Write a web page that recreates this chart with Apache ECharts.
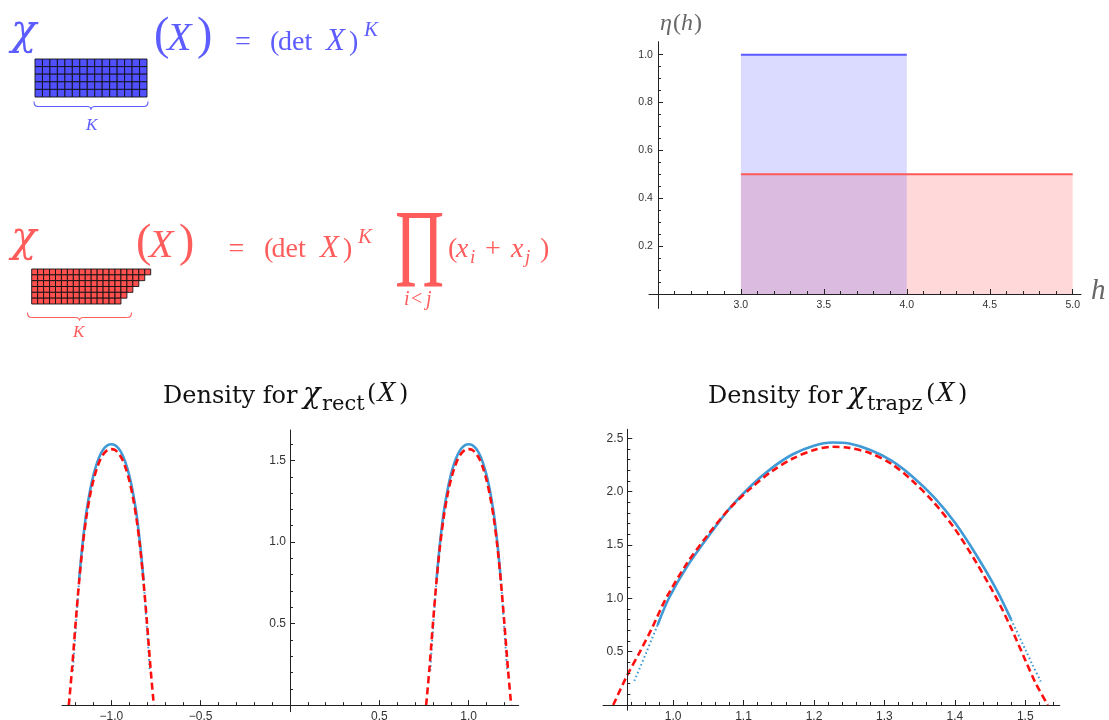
<!DOCTYPE html>
<html>
<head>
<meta charset="utf-8">
<script src="https://cdn.jsdelivr.net/npm/echarts@6/dist/echarts.min.js"></script>
<style>
  html, body { margin: 0; padding: 0; background: #ffffff; }
  #main { width: 1109px; height: 720px; }
</style>
</head>
<body>
<div id="main"></div>
<script>
// ---------- data ----------
// Young diagrams: number of boxes in each row
const rectRowLengths  = [15, 15, 15, 15, 15];
const trapzRowLengths = [20, 19, 18, 17, 16, 15];

// eta(h) step functions: [h, eta]
const etaRect  = [[3, 1.0], [4, 1.0]];
const etaTrapz = [[3, 0.5], [5, 0.5]];
const etaXMajor = [3.0, 3.5, 4.0, 4.5, 5.0];
const etaXMinor = [2.6, 2.7, 2.8, 2.9, 3.1, 3.2, 3.3, 3.4, 3.6, 3.7, 3.8, 3.9, 4.1, 4.2, 4.3, 4.4, 4.6, 4.7, 4.8, 4.9];
const etaYMajor = [0.2, 0.4, 0.6, 0.8, 1.0];
const etaYMinor = [0.05, 0.1, 0.15, 0.25, 0.3, 0.35, 0.45, 0.5, 0.55, 0.65, 0.7, 0.75, 0.85, 0.9, 0.95];

// density for chi_rect: sampled (blue) and limiting curve (red dashed)
const rectSampledLeft = [[-1.215, 0.21], [-1.21, 0.30], [-1.20, 0.46], [-1.19, 0.62], [-1.18, 0.77], [-1.17, 0.89], [-1.16, 1.00], [-1.14, 1.18], [-1.12, 1.31], [-1.10, 1.41], [-1.08, 1.485], [-1.06, 1.54], [-1.04, 1.575], [-1.02, 1.595], [-1.0, 1.60], [-0.98, 1.595], [-0.96, 1.575], [-0.94, 1.54], [-0.92, 1.485], [-0.90, 1.41], [-0.88, 1.31], [-0.86, 1.18], [-0.84, 1.00], [-0.83, 0.89], [-0.82, 0.77], [-0.81, 0.62], [-0.80, 0.46], [-0.79, 0.30], [-0.785, 0.21]];
const rectSampledRight = [[0.785, 0.21], [0.79, 0.30], [0.80, 0.46], [0.81, 0.62], [0.82, 0.77], [0.83, 0.89], [0.84, 1.00], [0.86, 1.18], [0.88, 1.31], [0.90, 1.41], [0.92, 1.485], [0.94, 1.54], [0.96, 1.575], [0.98, 1.595], [1.0, 1.60], [1.02, 1.595], [1.04, 1.575], [1.06, 1.54], [1.08, 1.485], [1.10, 1.41], [1.12, 1.31], [1.14, 1.18], [1.16, 1.00], [1.17, 0.89], [1.18, 0.77], [1.19, 0.62], [1.20, 0.46], [1.21, 0.30], [1.215, 0.21]];
const rectLimitLeft = [[-1.238, 0], [-1.22, 0.22], [-1.20, 0.50], [-1.18, 0.76], [-1.16, 0.98], [-1.14, 1.15], [-1.12, 1.28], [-1.10, 1.38], [-1.08, 1.455], [-1.06, 1.51], [-1.04, 1.545], [-1.02, 1.565], [-1.0, 1.57], [-0.98, 1.565], [-0.96, 1.545], [-0.94, 1.51], [-0.92, 1.455], [-0.90, 1.38], [-0.88, 1.28], [-0.86, 1.15], [-0.84, 0.98], [-0.82, 0.76], [-0.80, 0.50], [-0.78, 0.22], [-0.762, 0]];
const rectLimitRight = [[0.762, 0], [0.78, 0.22], [0.80, 0.50], [0.82, 0.76], [0.84, 0.98], [0.86, 1.15], [0.88, 1.28], [0.90, 1.38], [0.92, 1.455], [0.94, 1.51], [0.96, 1.545], [0.98, 1.565], [1.0, 1.57], [1.02, 1.565], [1.04, 1.545], [1.06, 1.51], [1.08, 1.455], [1.10, 1.38], [1.12, 1.28], [1.14, 1.15], [1.16, 0.98], [1.18, 0.76], [1.20, 0.50], [1.22, 0.22], [1.238, 0]];
const rectXMajor = [-1.0, -0.5, 0.5, 1.0];
const rectXMinor = [-1.2, -1.1, -0.9, -0.8, -0.7, -0.6, -0.4, -0.3, -0.2, -0.1, 0.1, 0.2, 0.3, 0.4, 0.6, 0.7, 0.8, 0.9, 1.1, 1.2];
const rectYMajor = [0.5, 1.0, 1.5];
const rectYMinor = [0.1, 0.2, 0.3, 0.4, 0.6, 0.7, 0.8, 0.9, 1.1, 1.2, 1.3, 1.4, 1.6];

// density for chi_trapz
const trapzSampled = [[0.945, 0.225], [0.9625, 0.50], [0.978, 0.75], [0.994, 1.00], [1.02, 1.30], [1.05, 1.58], [1.08, 1.84], [1.11, 2.05], [1.14, 2.22], [1.17, 2.35], [1.20, 2.43], [1.226, 2.46], [1.25, 2.45], [1.28, 2.39], [1.31, 2.29], [1.34, 2.14], [1.37, 1.95], [1.40, 1.71], [1.43, 1.41], [1.46, 1.07], [1.48, 0.80], [1.50, 0.52], [1.51, 0.38], [1.522, 0.22]];
const trapzLimit = [[0.915, 0], [0.935, 0.28], [0.953, 0.50], [0.97, 0.72], [0.99, 1.00], [1.02, 1.33], [1.05, 1.60], [1.08, 1.84], [1.11, 2.03], [1.14, 2.19], [1.17, 2.31], [1.20, 2.39], [1.226, 2.42], [1.25, 2.41], [1.28, 2.36], [1.31, 2.26], [1.34, 2.10], [1.37, 1.90], [1.40, 1.65], [1.43, 1.34], [1.46, 0.99], [1.48, 0.72], [1.50, 0.42], [1.515, 0.20], [1.532, 0]];
const trapzXMajor = [1.0, 1.1, 1.2, 1.3, 1.4, 1.5];
const trapzXMinor = [0.94, 0.96, 0.98, 1.02, 1.04, 1.06, 1.08, 1.12, 1.14, 1.16, 1.18, 1.22, 1.24, 1.26, 1.28, 1.32, 1.34, 1.36, 1.38, 1.42, 1.44, 1.46, 1.48, 1.52, 1.54];
const trapzYMajor = [0.5, 1.0, 1.5, 2.0, 2.5];
const trapzYMinor = [0.1, 0.2, 0.3, 0.4, 0.6, 0.7, 0.8, 0.9, 1.1, 1.2, 1.3, 1.4, 1.6, 1.7, 1.8, 1.9, 2.1, 2.2, 2.3, 2.4];

// ---------- styles ----------
const BLUE = '#5a5aff';
const RED = '#ff5a5a';
const CURVE_BLUE = '#3f9ad6';
const CURVE_RED = '#ff1010';
const AXIS = '#222222';
const LABEL = '#333333';
const SANS = 'Liberation Sans';
const SERIF = 'Liberation Serif';
const TITLE_SERIF = 'DejaVu Serif';

const fmt = v => v.toFixed(1).replace('-', '\u2212');

// grid rectangles in pixels; axes cross at (cx, cy)
const G = {
  eta:   { left: 649, top: 41.7, width: 432, height: 266.7, x: [2.446, 5.05], y: [-0.06, 1.054], cx: 2.5, cy: 0 },
  rect:  { left: 62, top: 430, width: 456.7, height: 281.7, x: [-1.276, 1.28], y: [-0.04, 1.687], cx: 0, cy: 0 },
  trapz: { left: 603, top: 429.3, width: 456.8, height: 281, x: [0.9005, 1.549], y: [-0.05, 2.584], cx: 0.935, cy: 0 },
  dRect: { left: 35, top: 59, width: 112, height: 38 },
  dTrap: { left: 31.7, top: 269, width: 119, height: 35 }
};
// pixel offsets that move the axes from the grid edges to the crossing point
const yAxisOffset = g => -(g.cx - g.x[0]) / (g.x[1] - g.x[0]) * g.width;
const xAxisOffset = g => -(g.cy - g.y[0]) / (g.y[1] - g.y[0]) * g.height;

// axis pair: major ticks + labels, and a second axis carrying the minor ticks
function axisPair(o) {
  const base = { gridIndex: o.grid, type: 'value', min: o.min, max: o.max, position: o.pos, offset: o.offset, splitLine: { show: false }, z: 5 };
  return [
    Object.assign({}, base, {
      axisLine: { show: true, onZero: false, lineStyle: { color: AXIS, width: 1 } },
      axisTick: { show: true, inside: true, length: 5, customValues: o.major, lineStyle: { color: AXIS, width: 1 } },
      axisLabel: { show: true, customValues: o.major, formatter: fmt, margin: o.margin, color: LABEL, fontFamily: SANS, fontSize: o.fontSize }
    }),
    Object.assign({}, base, {
      axisLine: { show: false, onZero: false },
      axisTick: { show: true, inside: true, length: 3, customValues: o.minor, lineStyle: { color: AXIS, width: 1 } },
      axisLabel: { show: false }
    })
  ];
}

const grids = [G.eta, G.rect, G.trapz, G.dRect, G.dTrap].map(g => ({
  left: g.left, top: g.top, width: g.width, height: g.height, containLabel: false, outerBoundsMode: 'none'
}));

const xAxes = [].concat(
  axisPair({ grid: 0, min: G.eta.x[0], max: G.eta.x[1], pos: 'bottom', offset: xAxisOffset(G.eta), major: etaXMajor, minor: etaXMinor, margin: 6, fontSize: 10.5 }),
  axisPair({ grid: 1, min: G.rect.x[0], max: G.rect.x[1], pos: 'bottom', offset: xAxisOffset(G.rect), major: rectXMajor, minor: rectXMinor, margin: 6, fontSize: 12 }),
  axisPair({ grid: 2, min: G.trapz.x[0], max: G.trapz.x[1], pos: 'bottom', offset: xAxisOffset(G.trapz), major: trapzXMajor, minor: trapzXMinor, margin: 6, fontSize: 12 }),
  [
    { gridIndex: 3, type: 'value', min: 0, max: 15, show: false },
    { gridIndex: 4, type: 'value', min: 0, max: 20, show: false }
  ]
);
const yAxes = [].concat(
  axisPair({ grid: 0, min: G.eta.y[0], max: G.eta.y[1], pos: 'left', offset: yAxisOffset(G.eta), major: etaYMajor, minor: etaYMinor, margin: 5, fontSize: 10.5 }),
  axisPair({ grid: 1, min: G.rect.y[0], max: G.rect.y[1], pos: 'left', offset: yAxisOffset(G.rect), major: rectYMajor, minor: rectYMinor, margin: 4, fontSize: 12 }),
  axisPair({ grid: 2, min: G.trapz.y[0], max: G.trapz.y[1], pos: 'left', offset: yAxisOffset(G.trapz), major: trapzYMajor, minor: trapzYMinor, margin: 4, fontSize: 12 }),
  [
    { gridIndex: 3, type: 'value', min: 0, max: 5, inverse: true, show: false },
    { gridIndex: 4, type: 'value', min: 0, max: 6, inverse: true, show: false }
  ]
);

// ---------- series helpers ----------
function cellsFrom(rows) {
  const out = [];
  rows.forEach((n, r) => { for (let c = 0; c < n; c++) out.push([c, r]); });
  return out;
}
function diagram(rows, axisIdx, fill) {
  return {
    type: 'custom', xAxisIndex: axisIdx, yAxisIndex: axisIdx, silent: true,
    data: cellsFrom(rows),
    renderItem: (params, api) => {
      const p = api.coord([api.value(0), api.value(1)]);
      const s = api.size([1, 1]);
      return { type: 'rect', shape: { x: p[0], y: p[1], width: s[0], height: s[1] },
               style: { fill: fill, stroke: '#111111', lineWidth: 0.9 } };
    }
  };
}
function curve(data, axisIdx, color, width, type, z) {
  return { type: 'line', xAxisIndex: axisIdx, yAxisIndex: axisIdx, data: data, smooth: 0.3, showSymbol: false, symbol: 'none', silent: true, z: z,
           lineStyle: { color: color, width: width, type: type, cap: 'butt' } };
}
// sampled curves: solid core, dotted tails below a level
function sampledParts(data, level) {
  const i0 = data.findIndex(p => p[1] >= level);
  const i1 = data.length - 1 - [...data].reverse().findIndex(p => p[1] >= level);
  return { left: data.slice(0, i0 + 1), core: data.slice(i0, i1 + 1), right: data.slice(i1) };
}
function sampledSeries(data, axisIdx, level) {
  const p = sampledParts(data, level);
  return [
    curve(p.core, axisIdx, CURVE_BLUE, 2.6, 'solid', 3),
    curve(p.left, axisIdx, CURVE_BLUE, 2, [1.6, 2.6], 3),
    curve(p.right, axisIdx, CURVE_BLUE, 2, [1.6, 2.6], 3)
  ];
}
const DASH = [7, 4];

const series = [
  // eta(h) fills then lines
  { type: 'line', xAxisIndex: 0, yAxisIndex: 0, data: etaTrapz, symbol: 'none', silent: true, z: 2,
    lineStyle: { width: 0 }, areaStyle: { color: 'rgba(255,75,75,0.21)', opacity: 1, origin: 'auto' } },
  { type: 'line', xAxisIndex: 0, yAxisIndex: 0, data: etaRect, symbol: 'none', silent: true, z: 2,
    lineStyle: { width: 0 }, areaStyle: { color: 'rgba(75,75,255,0.2)', opacity: 1, origin: 'auto' } },
  { type: 'line', xAxisIndex: 0, yAxisIndex: 0, data: etaTrapz, symbol: 'none', silent: true, z: 3,
    lineStyle: { color: RED, width: 2 } },
  { type: 'line', xAxisIndex: 0, yAxisIndex: 0, data: etaRect, symbol: 'none', silent: true, z: 3,
    lineStyle: { color: BLUE, width: 2 } },
  // rect density
  ...sampledSeries(rectSampledLeft, 2, 0.7),
  ...sampledSeries(rectSampledRight, 2, 0.7),
  curve(rectLimitLeft, 2, CURVE_RED, 2.6, DASH, 4),
  curve(rectLimitRight, 2, CURVE_RED, 2.6, DASH, 4),
  // trapz density
  ...sampledSeries(trapzSampled, 4, 0.6),
  curve(trapzLimit, 4, CURVE_RED, 2.6, DASH, 4),
  // Young diagrams
  diagram(rectRowLengths, 6, '#5050ff'),
  diagram(trapzRowLengths, 7, '#ff5050')
];

// ---------- formula text ----------
// distance from the canvas 'middle' line down to the alphabetic baseline
const measureCtx = document.createElement('canvas').getContext('2d');
function baseShift(size, italic, family) {
  measureCtx.font = `${italic ? 'italic ' : ''}${size}px "${family}"`;
  measureCtx.textBaseline = 'middle';
  const d = measureCtx.measureText('H').actualBoundingBoxDescent;
  return isFinite(d) ? d : 0.25 * size;
}
// [x, baseline, text, size, italic, family, scaleY]
function mathText(parts, color) {
  return parts.map(([x, base, t, size, italic, family, sy]) => {
    const fam = family || SERIF;
    const shift = baseShift(size, italic, fam);
    return {
      type: 'text', x: x, y: base - shift, silent: true, z: 10,
      scaleY: sy || 1, originX: 0, originY: shift,
      style: { text: t, fill: color, fontSize: size, fontStyle: italic ? 'italic' : 'normal',
               fontFamily: fam, align: 'left', verticalAlign: 'middle' }
    };
  });
}
// horizontal curly brace under a diagram, built from quadratic curves
function brace(x1, x2, y0, color) {
  const xm = (x1 + x2) / 2, y1 = y0 + 5, y2 = y0 + 8, r = 4;
  const st = { stroke: color, lineWidth: 1.1, fill: null };
  const q = (a, b, c, d, e, f) => ({ type: 'bezierCurve', silent: true, shape: { x1: a, y1: b, cpx1: c, cpy1: d, x2: e, y2: f }, style: st });
  const l = (a, b, c, d) => ({ type: 'line', silent: true, shape: { x1: a, y1: b, x2: c, y2: d }, style: st });
  return { type: 'group', z: 10, children: [
    q(x1, y0, x1, y1, x1 + r, y1), l(x1 + r, y1, xm - r, y1),
    q(xm - r, y1, xm, y1, xm, y2), q(xm, y2, xm, y1, xm + r, y1),
    l(xm + r, y1, x2 - r, y1), q(x2 - r, y1, x2, y1, x2, y0)
  ] };
}

const TXT_BLUE = '#5c5cff';
const TXT_RED = '#ff5c5c';
const GRAY = '#666666';
const CHI = 'DejaVu Serif';

const graphics = [].concat(
  mathText([
    [11, 43.5, 'χ', 42, true, CHI],
    [154, 49, '(', 46, false], [167, 50, 'X', 40, true], [197, 49, ')', 46, false],
    [235, 50, '=', 28, false], [270, 50, '(', 28, false], [278, 50, 'det', 28, false],
    [326, 50, 'X', 31, true], [349, 50, ')', 28, false], [364, 36, 'K', 21, true]
  ], TXT_BLUE),
  mathText([[86, 130, 'K', 17, true]], TXT_BLUE),
  [brace(34, 148, 101.5, TXT_BLUE)],
  mathText([
    [11, 250.5, 'χ', 42, true, CHI],
    [136, 256, '(', 46, false], [149, 257, 'X', 40, true], [179, 256, ')', 46, false],
    [228.5, 257, '=', 28, false], [264, 257, '(', 28, false], [271.5, 257, 'det', 28, false],
    [320, 257, 'X', 31, true], [343, 257, ')', 28, false], [358, 243, 'K', 21, true],
    [395, 287, 'Π', 68, false, SERIF, 1.64],
    [448, 257, '(', 28, false], [456, 257, 'x', 28, true], [470, 263, 'i', 19, true],
    [485, 257, '+', 28, false], [511, 257, 'x', 28, true], [525, 263, 'j', 19, true],
    [540, 257, ')', 28, false],
    [404, 305, 'i', 20, true], [411, 305, '<', 20, false], [426, 305, 'j', 20, true]
  ], TXT_RED),
  mathText([[73, 337, 'K', 17, true]], TXT_RED),
  [brace(27.5, 131.5, 312.5, TXT_RED)],
  // eta(h) and h
  mathText([[660, 30, 'η', 24, true], [673, 30, '(', 24, false], [681, 30, 'h', 24, true], [694, 30, ')', 24, false]], GRAY),
  mathText([[1091, 299, 'h', 29, true]], GRAY),
  // panel titles
  mathText([
    [163, 403, 'Density for', 24, false, TITLE_SERIF], [303, 403, 'χ', 29, true, CHI],
    [322, 410, 'rect', 21, false, TITLE_SERIF], [367, 401, '(', 24, false, TITLE_SERIF],
    [377, 401, 'X', 30, true], [399, 401, ')', 24, false, TITLE_SERIF]
  ], '#111111'),
  mathText([
    [708, 403, 'Density for', 24, false, TITLE_SERIF], [848, 403, 'χ', 29, true, CHI],
    [867, 410, 'trapz', 21, false, TITLE_SERIF], [926, 401, '(', 24, false, TITLE_SERIF],
    [936, 401, 'X', 30, true], [958, 401, ')', 24, false, TITLE_SERIF]
  ], '#111111')
);

const chart = echarts.init(document.getElementById('main'), null, { renderer: 'canvas' });
chart.setOption({
  animation: false,
  backgroundColor: '#ffffff',
  grid: grids,
  xAxis: xAxes,
  yAxis: yAxes,
  series: series,
  graphic: { elements: graphics }
});
</script>
</body>
</html>
